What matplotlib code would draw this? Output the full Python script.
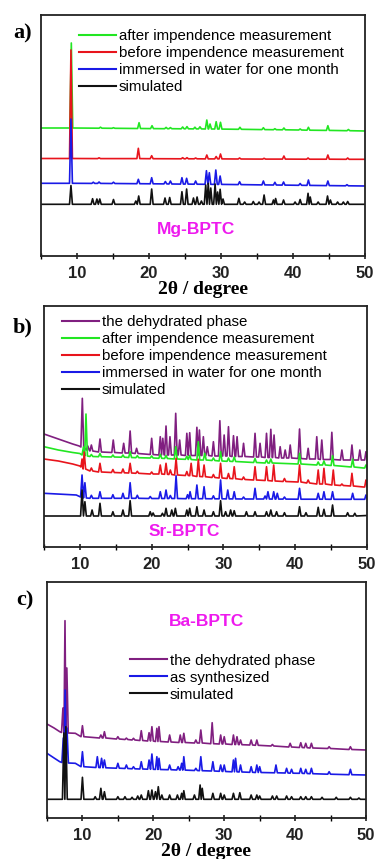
import matplotlib
matplotlib.use("Agg")
import matplotlib.pyplot as plt
from matplotlib.ticker import MultipleLocator

plt.rcParams['font.family'] = ['Liberation Sans', 'DejaVu Sans']

# ---------------- data: (2theta, baseline, peak top) in arbitrary intensity units ----------------
# Panel a) Mg-BPTC
mg_after = [(5.0,128,128),(9.25,128,213),(13.3,127.8,128.8),(15.1,127.7,128.3),(18.65,127.5,133.3),
            (20.45,127.4,130.3),(22.4,127.3,128.6),(23.0,127.3,128.4),(24.7,127.2,129.0),(25.3,127.2,129.4),
            (26.4,127.1,128.8),(27.1,127.1,129.2),(28.05,127.0,136.0),(28.5,127.0,132.0),(29.35,127.0,134.3),
            (29.95,126.9,133.7),(32.65,126.7,128.7),(35.9,126.4,128.3),(37.5,126.3,127.3),(38.75,126.2,128.0),
            (41.0,126.0,127.0),(42.15,125.8,128.7),(44.85,125.6,130.3),(47.7,125.3,126.5),(50.0,125.0,125.0)]
mg_before = [(5.0,97.5,97.5),(9.2,97.5,206),(13.1,97.4,98.2),(18.55,97.4,107.7),(20.4,97.3,100.3),
             (24.7,97.2,98.3),(25.3,97.2,98.3),(26.5,97.2,98.0),(28.05,97.1,101),(29.35,97.1,99.5),
             (29.95,97.1,102),(32.6,97.0,98.0),(36.0,96.9,97.7),(38.75,96.9,100),(42.1,96.8,98),
             (44.85,96.8,101),(47.6,96.7,98),(50.0,96.7,96.7)]
mg_water = [(5.0,72.7,72.7),(9.2,72.7,137),(12.3,72.6,73.8),(13.1,72.6,74),(15.1,72.5,73.8),
            (18.55,72.3,76.7),(20.4,72.2,78.3),(22.3,72.1,74.5),(23.0,72.0,75),(24.6,71.9,78.3),
            (25.25,71.9,77.7),(26.5,71.8,75),(28.0,71.7,85.3),(28.4,71.7,83.3),(29.3,71.6,86),
            (29.9,71.6,80),(32.6,71.4,74.3),(35.9,71.1,75),(37.5,71.0,73.7),(38.7,70.9,74),
            (41.0,70.7,72.5),(42.15,70.6,76),(44.85,70.4,75),(47.5,70.2,71.3),(50.0,70.0,70.0)]
mg_sim = [(5.0,51.7,51.7),(9.2,51.7,70.5),(12.2,51.7,57.3),(12.8,51.7,57),(13.2,51.7,57),(15.1,51.7,56.5),
          (18.2,51.7,55),(18.6,51.7,60),(20.4,51.7,67),(22.25,51.7,58),(22.9,51.7,58.5),(24.6,51.7,64.3),
          (25.25,51.7,67),(26.2,51.7,58),(26.7,51.7,59),(27.3,51.7,55),(27.9,51.7,71),(28.25,51.7,72.7),
          (28.6,51.7,68),(29.2,51.7,72),(29.55,51.7,64),(29.9,51.7,66.7),(30.3,51.7,57),(32.5,51.7,57.7),
          (33.3,51.7,54),(34.5,51.7,54.5),(35.3,51.7,54),(36.0,51.7,61),(37.3,51.7,56),(37.6,51.7,57.5),
          (38.7,51.7,56),(40.3,51.7,54),(41.0,51.7,56.5),(42.1,51.7,62.7),(42.4,51.7,59),(43.5,51.7,54),
          (44.8,51.7,60),(45.2,51.7,56),(46.2,51.7,54),(47.0,51.7,54),(47.6,51.7,54.5),(50.0,51.7,51.7)]

# Panel b) Sr-BPTC
sr_dehyd = [(5.0,113,113),(7.0,108,108),(9.0,103,103),(9.9,101,101),(10.34,100,148.7),(11.1,97,101),
            (11.6,96,102),(12.8,95,108),(14.65,94.5,107),(16.1,94,103.7),(17.0,94,116),(17.9,93.5,98.7),
            (20.0,92.5,108.7),(21.2,92,110.3),(21.55,92,108.7),(22.0,92,121),(22.55,92,110.3),(23.35,92,133.7),
            (23.9,92,107),(24.9,91.5,113.7),(25.3,91.5,114.3),(26.3,91.5,119.7),(26.65,91.5,117),(27.2,91.5,110.3),
            (27.75,91.5,100.3),(28.6,91,105.3),(29.5,91,126.3),(30.1,91,112),(30.7,91,120.3),(31.4,90.5,111.3),
            (31.9,90.5,110.3),(32.8,90.5,103.7),(34.4,90,113.7),(35.1,90,103.7),(36.0,89.5,113.7),(36.6,89.5,117.7),
            (37.05,89.5,112),(37.9,89,100.3),(38.6,89,97),(39.3,89,102),(40.6,88.5,118),(41.8,88,98.7),
            (43.0,88,110.3),(43.7,87.5,107),(45.1,87.5,114.7),(46.5,87,97),(47.9,87,102),(49.0,87,97),
            (49.5,87,87),(49.85,87,95.3)]
sr_after = [(5.0,100.3,100.3),(7.0,97,97),(9.0,94.5,94.5),(10.0,93.5,93.5),(10.5,92,100),(10.85,91,133),
            (11.6,90.5,92.5),(12.8,90.3,93.5),(14.6,90,92),(16.0,89.8,92),(17.0,89.5,95.3),(18.0,89.3,91.3),
            (20.0,89,91),(21.2,88.7,92.7),(22.0,88.5,91.5),(23.35,88,100.3),(24.9,87.7,90.7),(25.3,87.5,91.5),
            (26.5,87,105.3),(27.4,87,93.7),(28.6,86.5,89),(29.6,86,95.3),(30.7,85.7,89),(31.5,85.5,90),
            (34.4,84.5,88.5),(36.0,84,87),(36.6,84,88),(40.6,83,93.7),(43.2,82,85),(44.0,82,86),
            (45.2,81.5,91.3),(48.0,80,88),(49.5,79,79),(49.85,79,82)]
sr_before = [(5.0,88,88),(7.0,86,86),(9.0,83,83),(10.0,81,81),(10.3,80,88),(10.6,78,95),(11.6,76,79),
             (12.8,75,83.7),(14.6,74.5,77.5),(16.0,74.2,78),(17.0,74,83.7),(18.0,73.7,75.7),(20.0,73,75),
             (21.2,73,82),(22.0,72.7,83.7),(22.6,72.5,77),(23.4,72,88.7),(24.9,71.5,75.5),(25.5,71.3,83.7),
             (26.5,70.5,87.7),(27.3,70.3,82),(28.6,69.5,72.5),(29.6,69,83.7),(30.7,68.5,73.5),(31.5,68.3,80.3),
             (32.8,67.5,70),(34.4,67,80.3),(36.0,66.5,80.3),(37.0,66,82),(38.5,65.5,68.5),(40.6,65,82),
             (41.8,64,67),(43.2,63,77),(44.0,63,78.7),(45.3,62,77),(46.5,61.5,63),(47.9,61,73.7),
             (49.5,60,60),(49.85,60,67)]
sr_water = [(5.0,53.7,53.7),(9.5,52,52),(10.3,50,72),(10.7,49,64.3),(11.6,48.7,51.7),(12.8,48.7,55.3),
            (14.6,48.7,52.3),(16.0,48.7,53.7),(17.0,48.7,64.3),(18.0,48.7,51.7),(19.8,48.5,50.5),(21.2,48.5,55.3),
            (22.0,48.5,57),(22.6,48.5,51.5),(23.4,48.5,71.3),(25.0,48.3,52.3),(25.35,48.3,55.3),(26.3,48.3,62),
            (27.3,48.3,60.3),(28.6,48.2,51.2),(29.6,48.2,67),(30.6,48.1,57),(31.5,48.1,55.3),(32.8,48,50),
            (34.4,48,58.7),(35.8,48,51),(36.2,48,55.3),(37.0,47.9,55.3),(37.5,47.9,53.7),(38.5,47.9,50),
            (40.6,47.8,58.7),(43.2,47.8,53.7),(44.0,47.8,55.3),(45.2,47.7,55.3),(48.0,47.7,53.7),
            (49.5,47.7,47.7),(49.85,47.7,52)]
sr_sim = [(5.0,31,31),(10.3,31,57),(10.7,31,45.3),(11.7,31,37),(12.8,31,43.7),(14.6,31,35.3),(16.0,31,37),
          (17.0,31,46.3),(19.8,31,35.3),(20.2,31,34),(21.5,31,33.7),(22.0,31,38.7),(22.8,31,37),(23.3,31,38.7),
          (24.9,31,37),(25.3,31,38.7),(26.3,31,40.3),(27.3,31,37),(28.6,31,35.3),(29.6,31,46.3),(30.3,31,35.3),
          (31.0,31,37),(31.5,31,36.3),(33.2,31,35.3),(34.4,31,35.3),(36.0,31,35.3),(36.6,31,37),(37.4,31,35.3),
          (38.5,31,34.3),(40.6,31,40.3),(41.5,31,34.3),(43.2,31,39.7),(44.0,31,37.7),(45.2,31,42),
          (47.3,31,34.3),(48.3,31,33.7),(50.0,31.5,31.5)]

# Panel c) Ba-BPTC
ba_dehyd = [(5.0,94,94),(6.0,90,90),(6.8,86.3,86.3),(7.25,85.5,110),(7.54,85,197.3),(7.8,85,150),(9.0,84.7,84.7),
            (10.0,81.3,92.3),(12.6,80,83),(13.1,80,86.3),(15.0,79,81.3),(16.2,78.5,79.9),(17.2,78,79.7),
            (18.3,77.5,87.3),(19.4,77,85.3),(19.8,77,91.3),(20.5,76.5,89.7),(20.8,76.5,91.3),(22.3,76,83),
            (23.8,75.5,83),(24.3,75.5,84.7),(26.0,75,78),(26.7,75,88),(28.3,74.3,95.3),(29.5,74,83),
            (30.0,74,81.3),(31.3,73.5,83),(31.8,73.5,81.3),(32.3,73.3,78),(33.8,73,78),(34.6,72.7,78),
            (36.8,72,73.5),(39.3,71,74.7),(40.8,70.5,75.3),(41.5,70.3,74.7),(42.3,70,74.7),(44.8,69.5,71.3),
            (47.8,68.5,71.3),(50.0,68,68)]
ba_synth = [(5.0,64.7,64.7),(6.0,60,60),(6.8,56.3,56.3),(7.3,55.5,80),(7.56,55,128),(7.82,55,90),(9.0,54.7,54.7),
            (10.0,51.3,66.3),(12.1,50.5,61.3),(12.7,50.3,59.7),(13.1,50.2,58),(15.0,49.8,54.7),(16.2,49.5,53),
            (17.2,49.2,51.3),(18.3,49,56.3),(19.4,48.8,58),(19.8,48.7,64),(20.5,48.6,61.3),(20.8,48.5,59.7),
            (22.3,48.3,53),(23.5,48,51.3),(24.0,48,54.7),(24.3,47.9,61.3),(26.0,47.5,49.7),(26.7,47.3,61.3),
            (28.4,47,56.3),(29.5,46.7,53),(30.0,46.5,53),(31.3,46.2,58),(31.6,46.2,59.7),(32.3,46,53),
            (33.8,45.7,51.3),(34.6,45.5,53),(35.0,45.5,51.3),(37.3,45.2,53),(38.8,45,49.7),(39.5,44.8,48.7),
            (40.8,44.7,49.7),(41.5,44.5,48.7),(42.3,44.3,49.7),(44.8,43.8,46.3),(47.8,43.3,48.7),(50.0,43,43)]
ba_sim = [(5.0,18.7,18.7),(7.38,18.7,85),(7.66,18.7,91.3),(10.0,18.7,40.7),(11.8,18.7,21.3),(12.6,18.7,29.7),
          (13.1,18.7,26.3),(15.0,18.7,21.3),(16.0,18.7,21.3),(17.0,18.7,20.7),(17.8,18.7,22),(18.3,18.7,23),
          (19.3,18.7,27.3),(19.8,18.7,28),(20.3,18.7,26.3),(20.7,18.7,31.3),(21.2,18.7,23),(22.3,18.7,23),
          (23.4,18.7,23),(24.0,18.7,24.7),(24.3,18.7,27.3),(25.8,18.7,23),(26.6,18.7,33),(26.9,18.7,29.7),
          (28.4,18.7,24.7),(29.5,18.7,24.7),(30.0,18.7,23),(31.3,18.7,24.7),(32.2,18.7,25.3),(33.8,18.7,23),
          (34.6,18.7,23),(35.0,18.7,22),(36.8,18.7,22),(37.4,18.7,22),(38.8,18.7,22),(39.5,18.7,21.3),
          (40.8,18.7,21.3),(41.5,18.7,21.3),(42.3,18.7,21.3),(43.8,18.7,20.7),(45.8,18.7,20.7),(47.8,18.7,20.7),
          (49.0,18.7,20),(50.0,18.7,18.7)]

labels_a = ["after impendence measurement", "before impendence measurement",
            "immersed in water for one month", "simulated"]
labels_b = ["the dehydrated phase", "after impendence measurement", "before impendence measurement",
            "immersed in water for one month", "simulated"]
labels_c = ["the dehydrated phase", "as synthesized", "simulated"]
x_ticks = [10, 20, 30, 40, 50]

GREEN, RED, BLUE, BLACK, PURPLE = '#22e622', '#e8141c', '#1a1ae6', '#111111', '#801f80'
MAGENTA = '#ee1aee'


def profile(peaks, w=0.2):
    """Draw each listed peak as a narrow triangle on its baseline (w = half width, a style choice)."""
    xs, ys = [], []
    n = len(peaks)
    for i, (p, f, t) in enumerate(peaks):
        if t == f:
            xs.append(p); ys.append(f)
            continue
        left = p - w
        right = p + w
        if i > 0:
            left = max(left, (peaks[i - 1][0] + p) / 2)
        if i < n - 1:
            right = min(right, (peaks[i + 1][0] + p) / 2)
        xs += [left, p, right]; ys += [f, t, f]
    return xs, ys


fig = plt.figure(figsize=(3.75, 8.59), dpi=100)

panels = [
    dict(rect=[0.1085, 0.70198, 0.8648, 0.28056], ylim=(0, 241),
         series=[mg_after, mg_before, mg_water, mg_sim], colors=[GREEN, RED, BLUE, BLACK],
         labels=labels_a, leg=(0.118, 0.94), name="Mg-BPTC", name_xy=(26.6, 26), xlabel=True, tag="a)",
         tag_xy=(0.061, 0.9616)),
    dict(rect=[0.1173, 0.36321, 0.8614, 0.28056], ylim=(0, 241),
         series=[sr_dehyd, sr_after, sr_before, sr_water, sr_sim], colors=[PURPLE, GREEN, RED, BLUE, BLACK],
         labels=labels_b, leg=(0.055, 0.962), name="Sr-BPTC", name_xy=(24.6, 16), xlabel=False, tag="b)",
         tag_xy=(0.061, 0.6182)),
    dict(rect=[0.1253, 0.04773, 0.8507, 0.27474], ylim=(0, 236),
         series=[ba_dehyd, ba_synth, ba_sim], colors=[PURPLE, BLUE, BLACK],
         labels=labels_c, leg=(0.26, 0.696), name="Ba-BPTC", name_xy=(27.5, 196.3), xlabel=True, tag="c)",
         tag_xy=(0.066, 0.3015)),
]

for pn in panels:
    ax = fig.add_axes(pn['rect'])
    for data, col, lab in zip(pn['series'], pn['colors'], pn['labels']):
        xs, ys = profile(data)
        ax.plot(xs, ys, color=col, lw=1.2, label=lab)
    ax.set_xlim(5, 50)
    ax.set_ylim(*pn['ylim'])
    ax.set_yticks([])
    ax.set_xticks(x_ticks)
    ax.xaxis.set_minor_locator(MultipleLocator(5))
    ax.tick_params(axis='x', which='major', direction='inout', length=5, width=1.2, pad=5,
                   labelsize=12, colors='#222222')
    ax.tick_params(axis='x', which='minor', direction='inout', length=4, width=1.0)
    for lbl in ax.get_xticklabels():
        lbl.set_fontweight('bold')
    for sp in ax.spines.values():
        sp.set_linewidth(1.3)
        sp.set_color('#222222')
    leg = ax.legend(loc='upper left', bbox_to_anchor=pn['leg'], frameon=False, borderpad=0,
                    handlelength=2.5, handletextpad=0.15, labelspacing=0.2, borderaxespad=0,
                    prop={'family': 'Liberation Sans', 'size': 10.8})
    for ln in leg.get_lines():
        ln.set_linewidth(1.5)
    ax.text(pn['name_xy'][0], pn['name_xy'][1], pn['name'], color=MAGENTA, fontsize=12.5,
            fontweight='bold', ha='center', va='center')
    if pn['xlabel']:
        ax.set_xlabel('2θ / degree', family='Liberation Serif', fontweight='bold', fontsize=14, labelpad=0)
    fig.text(pn['tag_xy'][0], pn['tag_xy'][1], pn['tag'], family='Liberation Serif', fontweight='bold',
             fontsize=16, ha='center', va='center')

fig.savefig('out.png', dpi=100)
